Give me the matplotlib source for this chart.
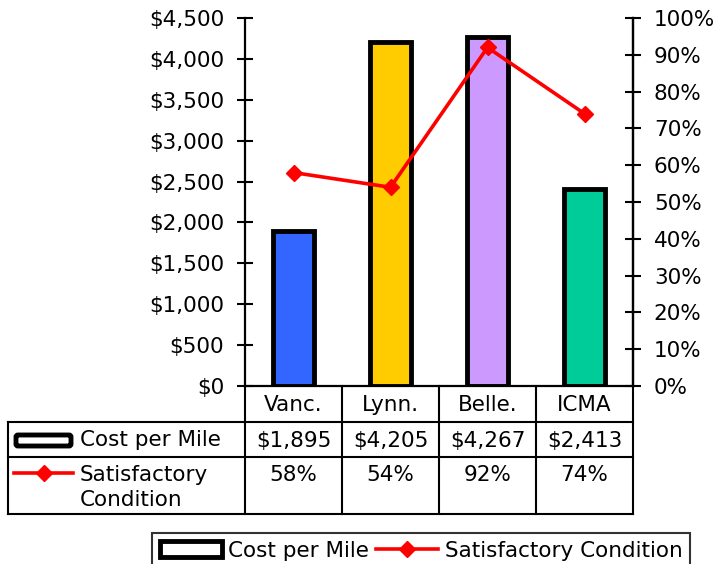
import matplotlib
matplotlib.use("Agg")
import matplotlib.pyplot as plt
from matplotlib.lines import Line2D
from matplotlib.patches import Patch, FancyBboxPatch
from matplotlib.ticker import FuncFormatter, MultipleLocator

categories = ["Vanc.", "Lynn.", "Belle.", "ICMA"]
cost_per_mile = [1895, 4205, 4267, 2413]
satisfactory = [58, 54, 92, 74]
bar_colors = ["#3366FF", "#FFCC00", "#CC99FF", "#00CC99"]
cost_labels = ["$1,895", "$4,205", "$4,267", "$2,413"]
sat_labels = ["58%", "54%", "92%", "74%"]
series_names = ["Cost per Mile", "Satisfactory\nCondition"]

W, H = 719, 564
FS = 15.5
plt.rcParams['font.family'] = ['DejaVu Sans']
fig = plt.figure(figsize=(W / 100, H / 100), dpi=100)

L, R, T, B = 245, 633, 18, 386
ax = fig.add_axes([L / W, (H - B) / H, (R - L) / W, (B - T) / H])
x = range(len(categories))
ax.bar(x, cost_per_mile, width=0.42, color=bar_colors, edgecolor="black", linewidth=3.5, zorder=2)
ax.set_xlim(-0.5, len(categories) - 0.5)
ax.set_ylim(0, 4500)
ax.yaxis.set_major_locator(MultipleLocator(500))
ax.yaxis.set_major_formatter(FuncFormatter(lambda v, p: "${:,.0f}".format(v)))
ax.set_xticks([])
ax.spines["top"].set_visible(False)
for s in ["left", "right", "bottom"]:
    ax.spines[s].set_linewidth(1.6)
ax.tick_params(axis="y", direction="inout", length=12, width=1.5, pad=9, labelsize=FS)

ax2 = ax.twinx()
ax2.plot(x, satisfactory, color="#FF0000", linewidth=2.6, marker="D", markersize=8, zorder=3)
ax2.set_ylim(0, 100)
ax2.yaxis.set_major_locator(MultipleLocator(10))
ax2.yaxis.set_major_formatter(FuncFormatter(lambda v, p: "{:.0f}%".format(v)))
for s in ["top", "left", "bottom"]:
    ax2.spines[s].set_visible(False)
ax2.spines["right"].set_linewidth(1.6)
ax2.tick_params(axis="y", direction="inout", length=12, width=1.5, pad=9, labelsize=FS)

# table overlay in pixel coordinates
ov = fig.add_axes([0, 0, 1, 1], zorder=5)
ov.set_xlim(0, W)
ov.set_ylim(H, 0)
ov.axis("off")
ov.patch.set_alpha(0)

n = len(categories)
colw = (R - L) / n
cols = [L + i * colw for i in range(n + 1)]
TL = 8
r0, r1, r2, r3 = B, 422, 457, 514
lw = 1.5
for cx in cols:
    ov.plot([cx, cx], [r0, r3], color="black", lw=lw)
ov.plot([TL, TL], [r1, r3], color="black", lw=lw)
ov.plot([TL, R], [r1, r1], color="black", lw=lw)
ov.plot([TL, R], [r2, r2], color="black", lw=lw)
ov.plot([TL, R], [r3, r3], color="black", lw=lw)

for i in range(n):
    cxm = (cols[i] + cols[i + 1]) / 2
    ov.text(cxm, (r0 + r1) / 2 + 1, categories[i], ha="center", va="center", fontsize=FS)
    ov.text(cxm, (r1 + r2) / 2 + 1, cost_labels[i], ha="center", va="center", fontsize=FS)
    ov.text(cxm, r2 + 18, sat_labels[i], ha="center", va="center", fontsize=FS)

# row label icons
ov.add_patch(FancyBboxPatch((16, 435), 55, 11, boxstyle="round,pad=0,rounding_size=2",
                            facecolor="white", edgecolor="black", linewidth=3.5))
ov.text(80, (r1 + r2) / 2 + 1, series_names[0], ha="left", va="center", fontsize=FS)
ov.plot([14, 73], [473, 473], color="#FF0000", lw=2.6)
ov.plot([43.5], [473], color="#FF0000", marker="D", markersize=8)
ov.text(80, r2 + 18, series_names[1].split("\n")[0], ha="left", va="center", fontsize=FS)
ov.text(80, r2 + 43, series_names[1].split("\n")[1], ha="left", va="center", fontsize=FS)

handles = [Patch(facecolor="white", edgecolor="black", linewidth=3.5),
           Line2D([0], [0], color="#FF0000", lw=2.6, marker="D", markersize=8)]
leg = fig.legend(handles, ["Cost per Mile", "Satisfactory Condition"], ncol=2,
                 loc="upper left", bbox_to_anchor=(152 / W, 1 - 533 / H),
                 fontsize=FS, frameon=True, fancybox=False, handlelength=2.9,
                 handletextpad=0.3, columnspacing=0.3, borderpad=0.35, borderaxespad=0)
leg.get_frame().set_edgecolor("black")
leg.get_frame().set_linewidth(1.5)

fig.savefig("out.png", dpi=100)
